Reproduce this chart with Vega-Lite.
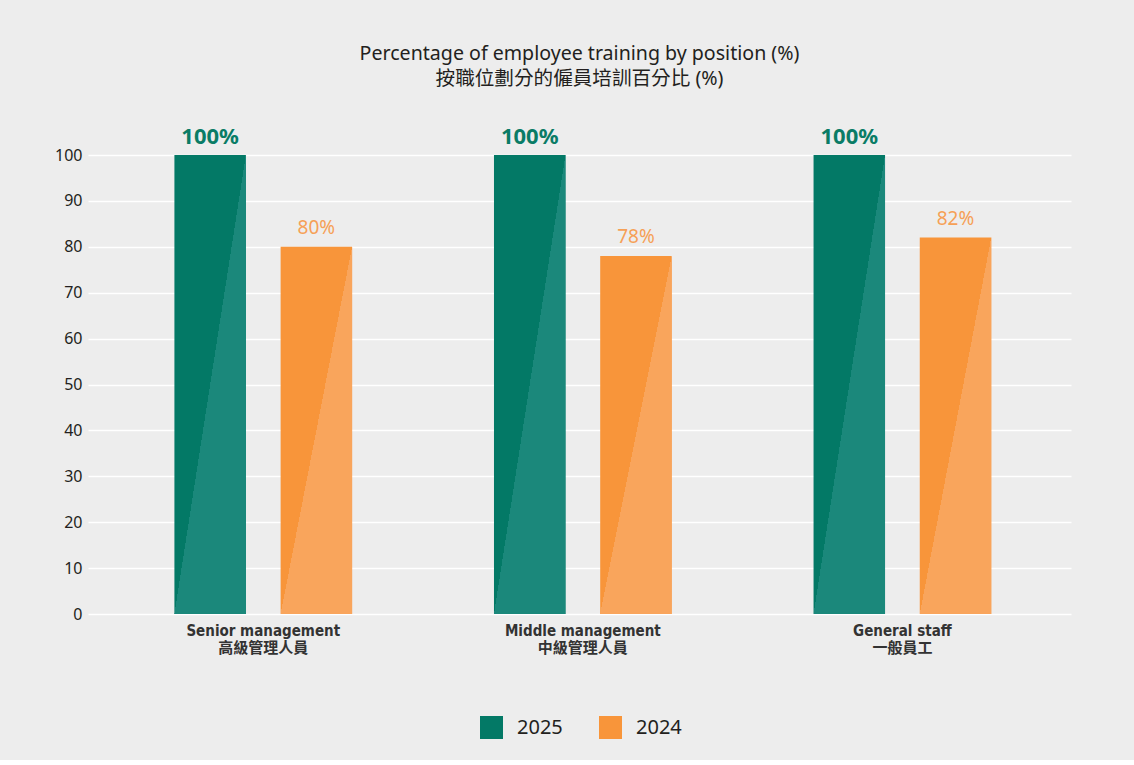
{
  "$schema": "https://vega.github.io/schema/vega-lite/v6.json",
  "width": 983,
  "height": 459,
  "padding": {"left": 54, "top": 44, "right": 63, "bottom": 21},
  "background": "#ededed",
  "config": {
    "view": {"stroke": null},
    "font": "Noto Sans, Noto Sans CJK TC"
  },
  "title": {
    "text": ["Percentage of employee training by position (%)", "按職位劃分的僱員培訓百分比 (%)"],
    "font": "Noto Sans, Noto Sans CJK TC",
    "fontSize": 19.6,
    "fontWeight": "normal",
    "color": "#231f20",
    "lineHeight": 25,
    "offset": 36,
    "anchor": "middle"
  },
  "data": {
    "values": [
      {"position": "Senior management|高級管理人員", "year": "2025", "value": 100},
      {"position": "Senior management|高級管理人員", "year": "2024", "value": 80},
      {"position": "Middle management|中級管理人員", "year": "2025", "value": 100},
      {"position": "Middle management|中級管理人員", "year": "2024", "value": 78},
      {"position": "General staff|一般員工", "year": "2025", "value": 100},
      {"position": "General staff|一般員工", "year": "2024", "value": 82}
    ]
  },
  "encoding": {
    "x": {
      "field": "position",
      "type": "nominal",
      "sort": null,
      "scale": {"paddingInner": 0.444, "paddingOuter": 0.26, "align": 0.52},
      "axis": {
        "title": null,
        "domain": false,
        "ticks": false,
        "labelAngle": 0,
        "labelExpr": "split(datum.label, '|')",
        "labelFont": "DejaVu Sans Condensed, Noto Sans CJK TC",
        "labelFontSize": 15,
        "labelFontWeight": "bold",
        "labelColor": "#333333",
        "labelLineHeight": 17,
        "labelPadding": 9
      }
    },
    "xOffset": {
      "field": "year",
      "type": "nominal",
      "sort": ["2025", "2024"],
      "scale": {"domain": ["2025", "2024"], "paddingInner": 0.327, "paddingOuter": 0}
    },
    "y": {
      "field": "value",
      "type": "quantitative",
      "scale": {"domain": [0, 100]},
      "axis": {
        "title": null,
        "domain": false,
        "ticks": false,
        "values": [0, 10, 20, 30, 40, 50, 60, 70, 80, 90, 100],
        "grid": true,
        "gridColor": "#ffffff",
        "gridWidth": 1.5,
        "labelFont": "Noto Sans",
        "labelFontSize": 16,
        "labelColor": "#231f20",
        "labelPadding": 6
      }
    }
  },
  "layer": [
    {
      "mark": {"type": "bar"},
      "encoding": {
        "color": {
          "field": "year",
          "type": "nominal",
          "sort": ["2025", "2024"],
          "scale": {"domain": ["2025", "2024"], "range": ["#037966", "#f8953a"]},
          "legend": {
            "title": null,
            "orient": "none",
            "legendX": 392,
            "legendY": 561,
            "padding": 0,
            "direction": "horizontal",
            "symbolType": "square",
            "symbolSize": 529,
            "symbolStrokeWidth": 0,
            "symbolOpacity": 1,
            "labelFont": "Noto Sans",
            "labelFontSize": 20,
            "labelColor": "#231f20",
            "labelOffset": 14,
            "columnPadding": 36
          }
        }
      }
    },
    {
      "transform": [{"filter": "datum.year === '2025'"}],
      "mark": {
        "type": "bar",
        "fill": {
          "gradient": "linear",
          "x1": 0, "y1": 0, "x2": 1, "y2": 1,
          "stops": [
            {"offset": 0, "color": "rgba(27,136,123,0)"},
            {"offset": 0.5, "color": "rgba(27,136,123,0)"},
            {"offset": 0.5, "color": "rgba(27,136,123,1)"},
            {"offset": 1, "color": "rgba(27,136,123,1)"}
          ]
        }
      }
    },
    {
      "transform": [{"filter": "datum.year === '2024'"}],
      "mark": {
        "type": "bar",
        "fill": {
          "gradient": "linear",
          "x1": 0, "y1": 0, "x2": 1, "y2": 1,
          "stops": [
            {"offset": 0, "color": "rgba(249,165,92,0)"},
            {"offset": 0.5, "color": "rgba(249,165,92,0)"},
            {"offset": 0.5, "color": "rgba(249,165,92,1)"},
            {"offset": 1, "color": "rgba(249,165,92,1)"}
          ]
        }
      }
    },
    {
      "transform": [{"filter": "datum.year === '2025'"}],
      "mark": {
        "type": "text",
        "text": {"expr": "datum.value + '%'"},
        "baseline": "bottom",
        "dy": -6,
        "font": "Noto Sans",
        "fontSize": 22,
        "fontWeight": "bold",
        "color": "#0a7c66"
      }
    },
    {
      "transform": [{"filter": "datum.year === '2024'"}],
      "mark": {
        "type": "text",
        "text": {"expr": "datum.value + '%'"},
        "baseline": "bottom",
        "dy": -9,
        "font": "Noto Sans",
        "fontSize": 19,
        "fontWeight": "normal",
        "color": "#f6a056"
      }
    }
  ]
}
